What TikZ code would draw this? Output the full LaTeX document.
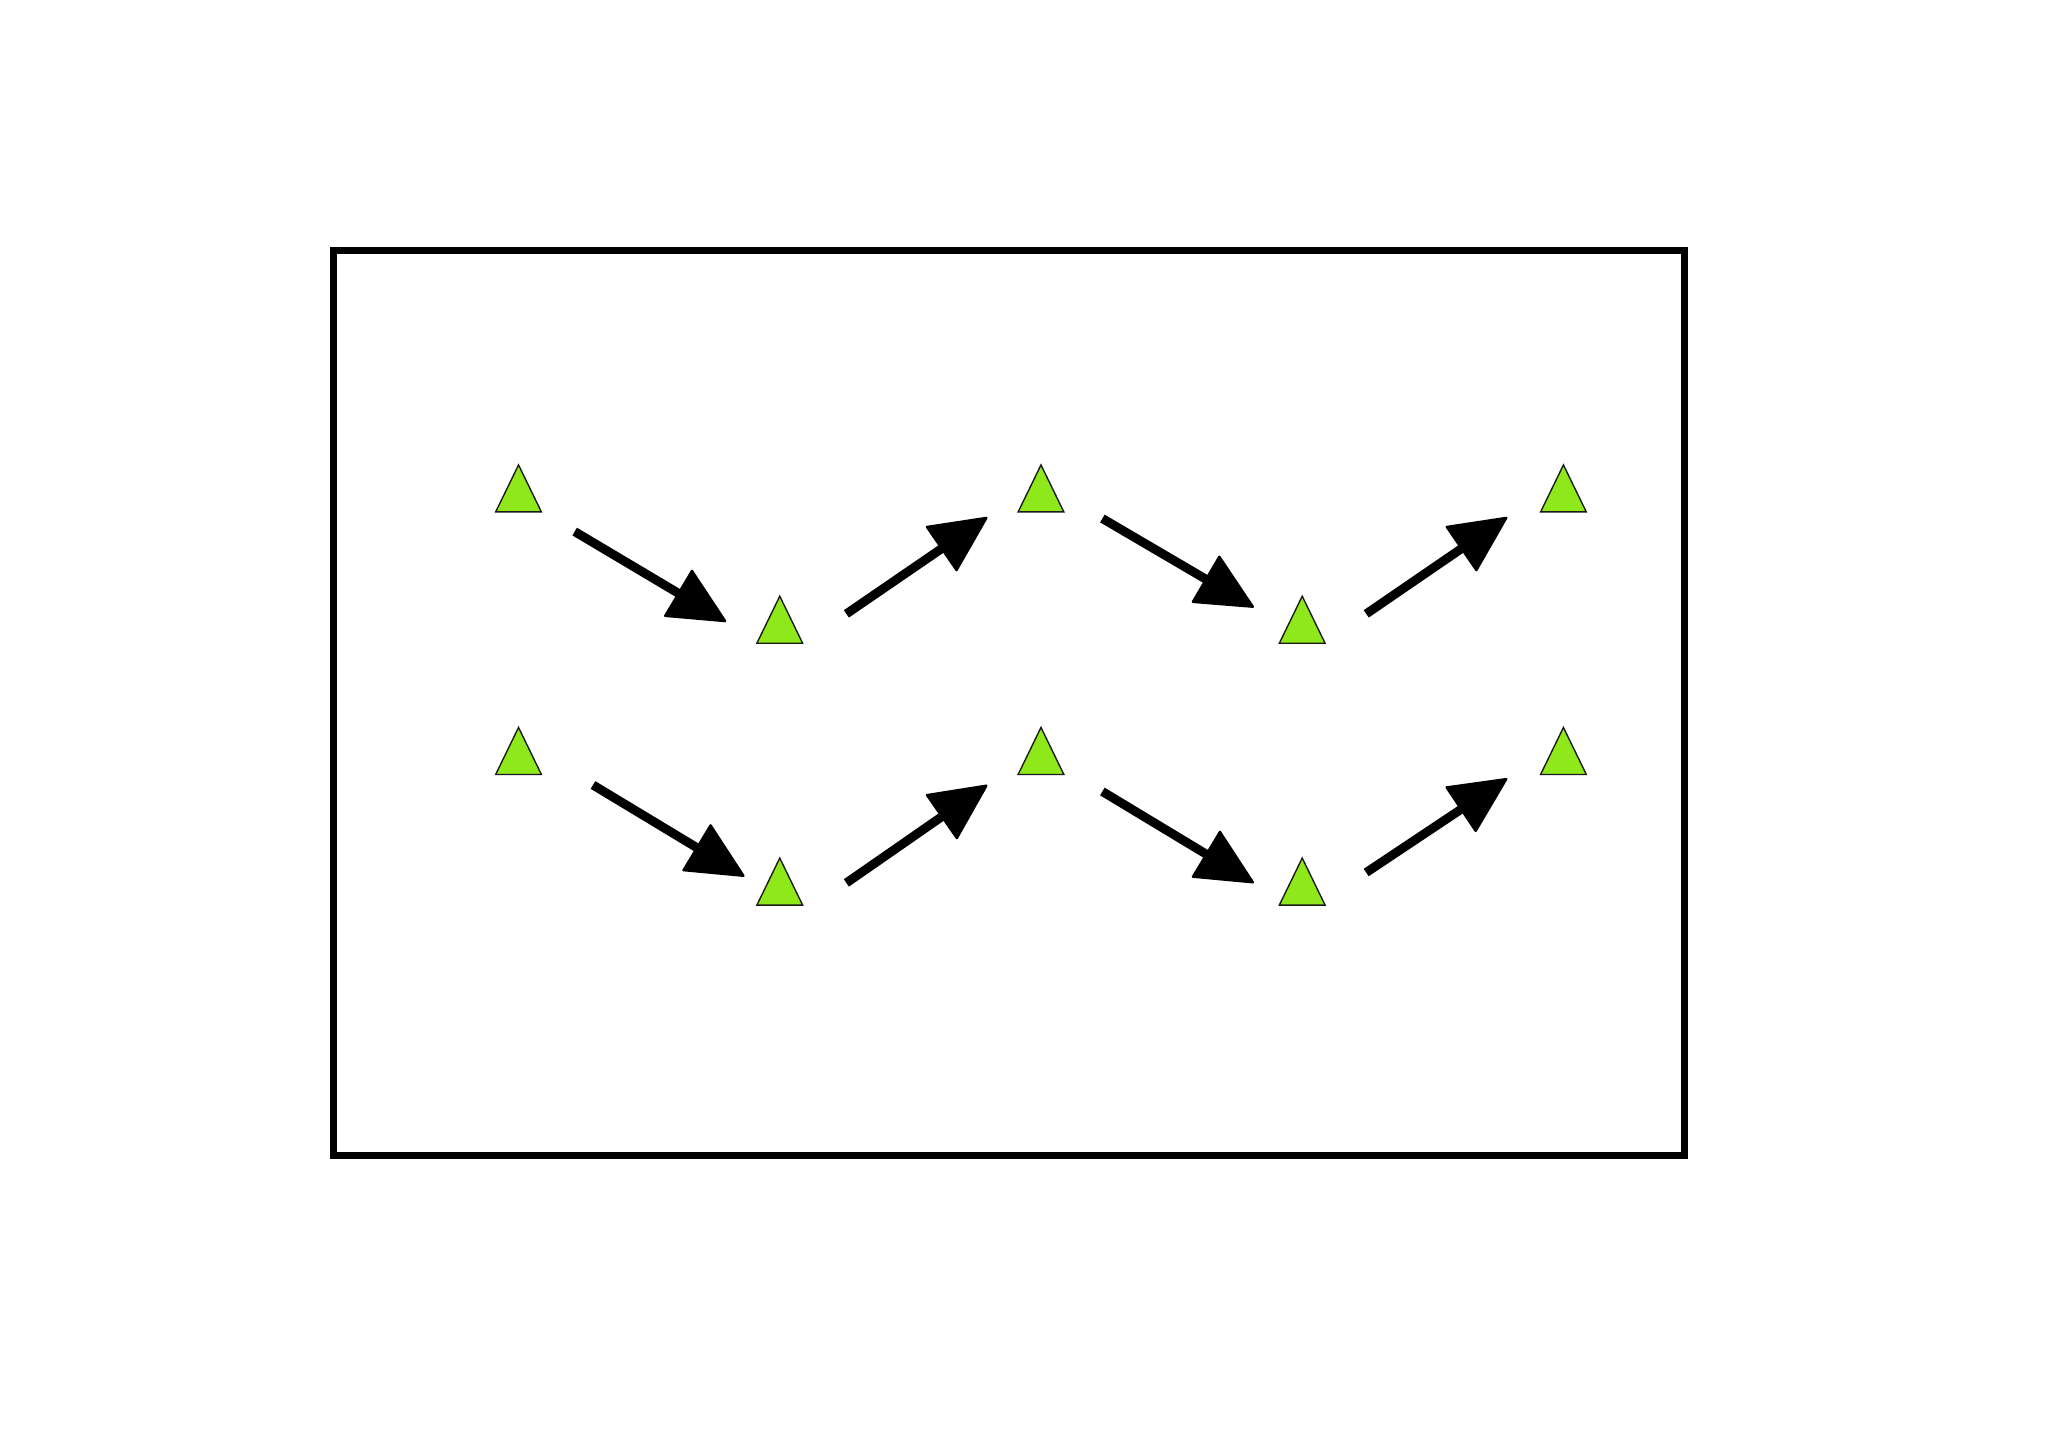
\documentclass[tikz,border=0pt]{standalone}
\usetikzlibrary{arrows.meta,positioning,shapes.geometric}
\definecolor{ConeGreen}{HTML}{8FE81A}
\definecolor{ConeRule}{HTML}{1A1A1A}
\definecolor{FieldInk}{HTML}{000000}

\begin{document}
\begin{tikzpicture}[x=0.02cm,y=0.02cm,
  cone/.style={isosceles triangle, isosceles triangle stretches, shape border rotate=90,
               fill=ConeGreen, draw=ConeRule, line width=0.6pt,
               minimum width=0.7cm, minimum height=0.72cm, inner sep=0pt},
  run/.style={draw=FieldInk, line width=3.9pt,
              -{Triangle[length=8.9mm,width=8.5mm,round,line width=1pt]}},
  field/.style={draw=FieldInk, line width=3.1pt}]
  \path[use as bounding box, fill=white] (0,0) rectangle (1568,1109);
  \node[field, minimum width=20.7cm, minimum height=13.86cm, inner sep=0pt] (pitch) at (772.5,570.5) {};
  % upper row of cones
  \node[cone] (u1) at (397,728) {};
  \node[cone] (u2) at (597,627.5) {};
  \node[cone] (u3) at (797,728) {};
  \node[cone] (u4) at (997,627.5) {};
  \node[cone] (u5) at (1197,728) {};
  % lower row of cones
  \node[cone] (l1) at (397,527) {};
  \node[cone] (l2) at (597,427) {};
  \node[cone] (l3) at (797,527) {};
  \node[cone] (l4) at (997,427) {};
  \node[cone] (l5) at (1197,527) {};
  % run ends
  \coordinate (ua1) at (440,702);  \coordinate (ub1) at (556,633);
  \coordinate (ua2) at (648,639);  \coordinate (ub2) at (756,713);
  \coordinate (ua3) at (844,712);  \coordinate (ub3) at (960,644);
  \coordinate (ua4) at (1046,639); \coordinate (ub4) at (1154,713);
  \coordinate (la1) at (454,508);  \coordinate (lb1) at (570,438);
  \coordinate (la2) at (648,433);  \coordinate (lb2) at (756,508);
  \coordinate (la3) at (844,503);  \coordinate (lb3) at (960,433);
  \coordinate (la4) at (1046,441); \coordinate (lb4) at (1154,513);
  \draw[run] (ua1) -- (ub1);
  \draw[run] (ua2) -- (ub2);
  \draw[run] (ua3) -- (ub3);
  \draw[run] (ua4) -- (ub4);
  \draw[run] (la1) -- (lb1);
  \draw[run] (la2) -- (lb2);
  \draw[run] (la3) -- (lb3);
  \draw[run] (la4) -- (lb4);
\end{tikzpicture}
\end{document}
